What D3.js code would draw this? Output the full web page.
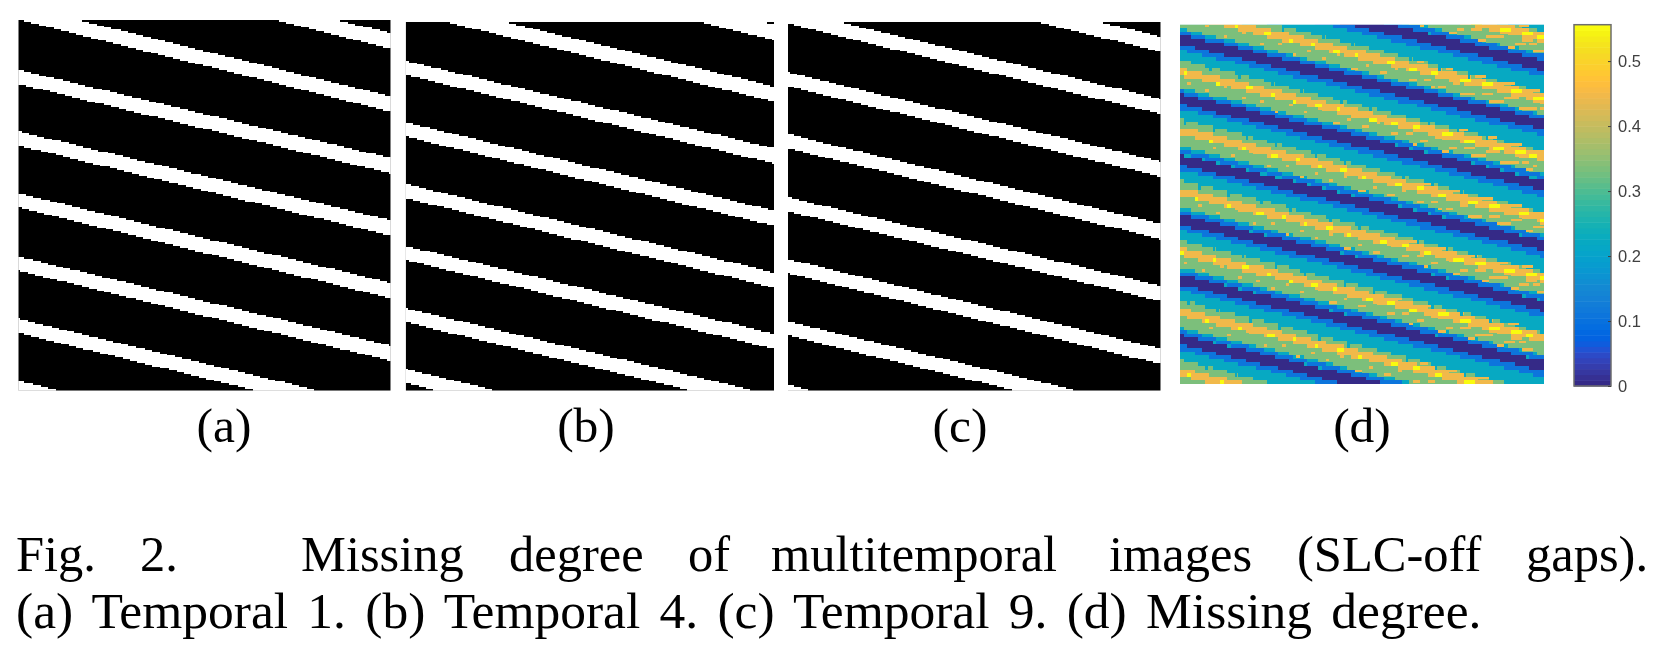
<!DOCTYPE html>
<html>
<head>
<meta charset="utf-8">
<script src="https://cdn.jsdelivr.net/npm/d3@7"></script>
<style>
html, body { margin: 0; padding: 0; background: #fff; }
svg { display: block; }
text { font-family: "Liberation Serif", serif; fill: #000; }
.cbar text { font-family: "Liberation Sans", sans-serif; font-size: 16.5px; fill: #404040; }
</style>
</head>
<body>
<svg width="1662" height="652"></svg>
<script>
// gap rows, image is 100 x 100 cells
var gapLeftA = [-21, -3.9, 13.5, 30.1, 46.8, 63.9, 80.7, 97.4];
var gapRightA = [3.6, 20.7, 37.3, 54.1, 71, 87.9, 104.7, 121.4];
var gapLeftB = [-23, -6.4, 10.6, 27.3, 44, 60.8, 77.7, 94.2];
var gapRightB = [0.8, 17.5, 34.3, 51.2, 68, 84.6, 101.3, 118];
var gapLeftC = [-20, -3.3, 13.7, 30.5, 47.6, 64.4, 81.3, 98.5];
var gapRightC = [4, 20.9, 37.9, 54.8, 71.6, 88.7, 105.5, 122.5];
var gapWidthLeft = 3.8;
var gapWidthRight = 4.15;

// missing degree map: navy band top on both edges, then the band widths of one cycle
var navyLeft = [-30.3, -13.6, 2.9, 19.3, 36.3, 53, 69.7, 86.4];
var navyRight = [-6.6, 10.1, 26.5, 43.5, 60.2, 77, 93.7, 110.4];
var bandCount = [0, 1, 2, 3, 4, 3, 2, 1];   // how many of the 9 temporals are missing
var bandWidthLeft = [2.8, 1.4, 2.8, 2.2, 2.2, 3.3, 0.8, 1.1];
var bandWidthRight = [2.9, 1.7, 4.2, 0.4, 2.5, 3.3, 0.3, 1.4];

var yellowDashes = [[3, 4], [12, 13], [20, 22], [27, 28], [33, 34], [39, 41], [45, 46], [54, 56],
  [60, 62], [66, 68], [74, 77], [80, 83], [88, 91], [94, 97], [98, 100]];
var orangeSpecks = [[4, 1, 1], [9, 2, 1], [14, 0, 1], [19, 2, 1], [24, 1, 1], [28, 3, 1], [32, 1, 1], [36, 2, 1],
  [40, 0, 1], [44, 3, 2], [48, 1, 1], [52, 2, 2], [56, 0, 1], [60, 2, 2], [64, 1, 2], [68, 2, 2],
  [72, 0, 2], [76, 2, 2], [80, 1, 3], [84, 2, 2], [88, 0, 2], [92, 2, 3], [96, 1, 2], [99, 2, 1],
  [66, 3, 1], [74, 3, 2], [82, 3, 2], [86, 1, 3], [90, 3, 2], [94, 0, 3], [97, 3, 2],
  [70, -3, 2], [78, -3, 3], [86, -3, 3], [93, -3, 3], [62, -3, 2]];
var tealSpecks = [[6, 0], [14, 0], [23, 0], [31, 0], [42, 0], [50, 0], [66, 0], [74, 0], [82, 0]];
var cycleShift = [0, 3, -2, 5, 1, -3, 4, -1];

var cbarTicks = [0, 0.1, 0.2, 0.3, 0.4, 0.5];
var cbarMax = 0.556;

// parula, 64 levels
var parula = [[.2081,.1663,.5292],[.2116,.1898,.5777],[.2123,.2138,.627],[.2081,.2386,.6771],[.1959,.2645,.7279],[.1707,.2919,.7792],[.1253,.3242,.8303],[.0591,.3598,.8683],
[.0117,.3875,.882],[.006,.4086,.8828],[.0165,.4266,.8786],[.0329,.443,.872],[.0498,.4586,.8641],[.0629,.4737,.8554],[.0723,.4887,.8467],[.0779,.504,.8384],
[.0793,.52,.8312],[.0749,.5375,.8263],[.0641,.557,.824],[.0488,.5772,.8228],[.0343,.5966,.8199],[.0265,.6137,.8135],[.0239,.6287,.8038],[.0231,.6418,.7913],
[.0228,.6535,.7768],[.0267,.6642,.7607],[.0384,.6743,.7436],[.059,.6838,.7254],[.0843,.6928,.7062],[.1133,.7015,.6859],[.1453,.7098,.6646],[.1801,.7177,.6424],
[.2178,.725,.6193],[.2586,.7317,.5954],[.3022,.7376,.5712],[.3482,.7424,.5473],[.3953,.7459,.5244],[.442,.7481,.5033],[.4871,.7491,.484],[.53,.7491,.4661],
[.5709,.7485,.4494],[.6099,.7473,.4337],[.6473,.7456,.4188],[.6834,.7435,.4044],[.7184,.7411,.3905],[.7525,.7384,.3768],[.7858,.7356,.3633],[.8185,.7327,.3498],
[.8507,.7299,.336],[.8824,.7274,.3217],[.9139,.7258,.3063],[.945,.7261,.2886],[.9739,.7314,.2666],[.9938,.7455,.2403],[.999,.7653,.2164],[.9955,.7861,.1967],
[.988,.8066,.1794],[.9789,.8271,.1633],[.9697,.8481,.1475],[.9626,.8705,.1309],[.9589,.8949,.1132],[.9598,.9218,.0948],[.9661,.9514,.0755],[.9763,.9831,.0538]]
  .map(function(c) { return d3.rgb(c[0] * 255, c[1] * 255, c[2] * 255).formatHex(); });

// the first caption line is justified, so every word keeps its own x
var captionLine1 = [["Fig.", 16], ["2.", 140], ["Missing", 301], ["degree", 509], ["of", 688], ["multitemporal", 771],
  ["images", 1109], ["(SLC-off", 1297], ["gaps).", 1526]];
var captionLine2 = "(a) Temporal 1. (b) Temporal 4. (c) Temporal 9. (d) Missing degree.";
var subLabels = [["(a)", 224], ["(b)", 586], ["(c)", 960], ["(d)", 1362]];

var svg = d3.select("svg");
var cols = d3.range(0, 101);
var fineCols = d3.range(0, 100.25, 0.5);
var color = d3.scaleQuantize().domain([0, 5 / 9]).range(parula);

function addClip(id, x, y, w, h) {
    svg.append("clipPath").attr("id", id).append("rect")
        .attr("x", x).attr("y", y).attr("width", w).attr("height", h);
}

// area between two straight edges, snapped to image rows so it gets the stair look
function bandArea(xCell, yCell, top, bottom, snap) {
    return d3.area()
        .x(function(c) { return xCell(c); })
        .y0(function(c) { return yCell(Math.round(top(c) / snap) * snap); })
        .y1(function(c) { return yCell(Math.round(bottom(c) / snap) * snap); })
        .curve(d3.curveStepAfter);
}

function drawMask(id, x0, x1, y0, y1, left, right) {
    var xCell = d3.scaleLinear().domain([0, 100]).range([x0, x1]);
    var yCell = d3.scaleLinear().domain([0, 100]).range([y0, y1]);
    addClip(id, x0, y0, x1 - x0, y1 - y0);
    var g = svg.append("g").attr("clip-path", "url(#" + id + ")");
    g.append("rect").attr("x", x0).attr("y", y0).attr("width", x1 - x0).attr("height", y1 - y0).attr("fill", "#000");
    left.forEach(function(l, i) {
        var top = d3.scaleLinear().domain([0, 100]).range([l, right[i]]);
        var bottom = d3.scaleLinear().domain([0, 100]).range([l + gapWidthLeft, right[i] + gapWidthRight]);
        g.append("path").datum(fineCols)
            .attr("d", bandArea(xCell, yCell, top, bottom, 0.5))
            .attr("fill", "#fff").attr("shape-rendering", "crispEdges");
    });
}

drawMask("clipA", 18.3, 390.7, 20, 390.7, gapLeftA, gapRightA);
drawMask("clipB", 405.7, 774, 22, 390.7, gapLeftB, gapRightB);
drawMask("clipC", 788, 1160.7, 22, 390.7, gapLeftC, gapRightC);

// panel d
var dx0 = 1180, dx1 = 1544, dy0 = 24.7, dy1 = 384;
var xCell = d3.scaleLinear().domain([0, 100]).range([dx0, dx1]);
var yCell = d3.scaleLinear().domain([0, 100]).range([dy0, dy1]);
var cellW = xCell(1) - xCell(0), cellH = yCell(1) - yCell(0);
addClip("clipD", dx0, dy0, dx1 - dx0, dy1 - dy0);
var gd = svg.append("g").attr("clip-path", "url(#clipD)");
gd.append("rect").attr("x", dx0).attr("y", dy0).attr("width", dx1 - dx0).attr("height", dy1 - dy0).attr("fill", color(2 / 9));

var cumLeft = d3.cumsum([0].concat(bandWidthLeft));
var cumRight = d3.cumsum([0].concat(bandWidthRight));

function edge(i, b) {
    return d3.scaleLinear().domain([0, 100]).range([navyLeft[i] + cumLeft[b], navyRight[i] + cumRight[b]]);
}

navyLeft.forEach(function(_, i) {
    bandCount.forEach(function(k, b) {
        gd.append("path").datum(cols)
            .attr("d", bandArea(xCell, yCell, edge(i, b), edge(i, b + 1), 1))
            .attr("fill", color(k / 9)).attr("shape-rendering", "crispEdges");
    });
});

navyLeft.forEach(function(_, i) {
    var shift = cycleShift[i];
    var greenTop = edge(i, 3), orangeTop = edge(i, 4), orangeBottom = edge(i, 5);

    orangeSpecks.forEach(function(s) {
        var c = s[0] + shift;
        gd.append("rect")
            .attr("x", xCell(c)).attr("y", yCell(Math.round(orangeBottom(c)) + s[1]))
            .attr("width", cellW * s[2]).attr("height", cellH * 0.7)
            .attr("fill", color(4 / 9)).attr("shape-rendering", "crispEdges");
    });
    tealSpecks.forEach(function(s) {
        var c = s[0] - shift;
        gd.append("rect")
            .attr("x", xCell(c)).attr("y", yCell(Math.round(greenTop(c)) + s[1]))
            .attr("width", cellW * 0.7).attr("height", cellH)
            .attr("fill", color(2 / 9)).attr("shape-rendering", "crispEdges");
    });
    yellowDashes.forEach(function(d) {
        var c = d[0] + shift;
        gd.append("rect")
            .attr("x", xCell(c)).attr("y", yCell(Math.round((orangeTop(c) + orangeBottom(c)) / 2)))
            .attr("width", cellW * (d[1] - d[0])).attr("height", cellH)
            .attr("fill", color(5 / 9)).attr("shape-rendering", "crispEdges");
    });
});

// colorbar
var barX = 1574, barW = 37;
var yBar = d3.scaleLinear().domain([0, cbarMax]).range([386, 24.7]);
var gc = svg.append("g").attr("class", "cbar").style("filter", "blur(0.4px)");
gc.selectAll("rect.level").data(parula).enter().append("rect")
    .attr("class", "level")
    .attr("x", barX).attr("width", barW)
    .attr("y", function(d, i) { return yBar((i + 1) / 64 * cbarMax); })
    .attr("height", (386 - 24.7) / 64 + 0.5)
    .attr("fill", function(d) { return d; });
gc.append("rect").attr("x", barX).attr("y", 24.7).attr("width", barW).attr("height", 386 - 24.7)
    .attr("fill", "none").attr("stroke", "#6e6e6e").attr("stroke-width", 1.5);

var axis = d3.axisRight(yBar).tickValues(cbarTicks).tickSizeOuter(0).tickSizeInner(-3).tickPadding(10)
    .tickFormat(function(d) { return d === 0 ? "0" : d3.format(".1f")(d); });
var ga = gc.append("g").attr("transform", "translate(" + (barX + barW) + ",0)").call(axis);
ga.select(".domain").remove();
ga.selectAll("line").attr("stroke", "#404040");
ga.selectAll("text").attr("x", 7);

// labels and caption
svg.selectAll("text.sub").data(subLabels).enter().append("text")
    .attr("class", "sub")
    .attr("x", function(d) { return d[1]; })
    .attr("y", 442)
    .attr("text-anchor", "middle")
    .style("font-size", "49.5px")
    .text(function(d) { return d[0]; });

svg.selectAll("text.line1").data(captionLine1).enter().append("text")
    .attr("class", "line1")
    .attr("x", function(d) { return d[1]; })
    .attr("y", 571)
    .style("font-size", "50.5px")
    .text(function(d) { return d[0]; });

svg.append("text")
    .attr("x", 16)
    .attr("y", 628)
    .style("font-size", "51.5px")
    .style("word-spacing", "6.4px")
    .text(captionLine2);
</script>
</body>
</html>
